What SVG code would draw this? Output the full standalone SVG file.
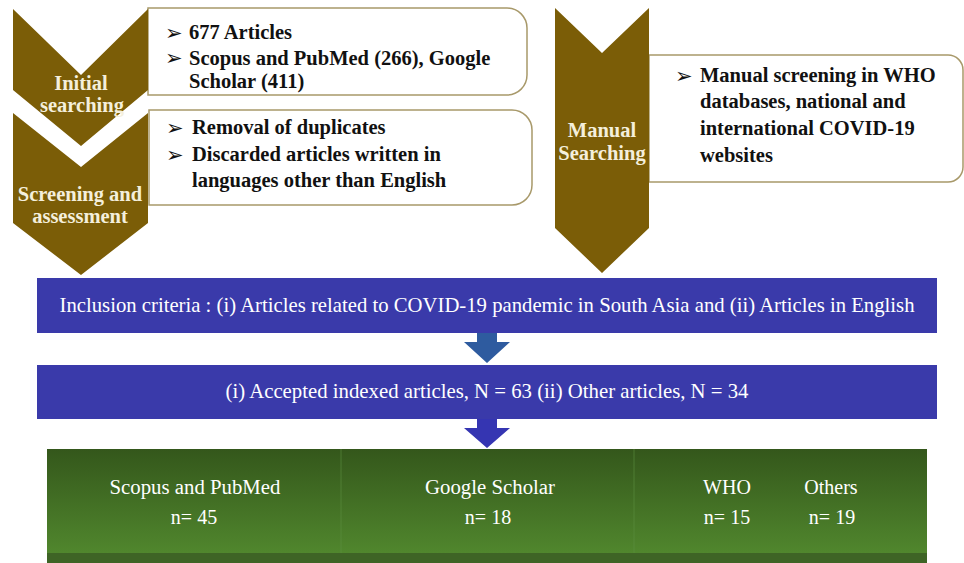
<svg xmlns="http://www.w3.org/2000/svg" width="964" height="563" viewBox="0 0 964 563">
<defs>
<linearGradient id="greenGrad" x1="0" y1="0" x2="0" y2="1">
<stop offset="0" stop-color="#34571b"/>
<stop offset="1" stop-color="#538b2f"/>
</linearGradient>
<style>
.chev{fill:#7b5d07}
.chevText{font-family:"Liberation Serif","Times New Roman",serif;font-weight:bold;font-size:20.5px;fill:#f4efdc;text-anchor:middle}
.box{fill:#ffffff;stroke:#a8996a;stroke-width:1.5}
.bt{font-family:"Liberation Serif","Times New Roman",serif;font-weight:bold;font-size:20.5px;fill:#111111}
.bul{font-family:"DejaVu Sans",sans-serif;font-size:21px;fill:#111111}
.blue{fill:#3a3aaa}
.wt{font-family:"Liberation Serif","Times New Roman",serif;font-size:21px;fill:#ffffff;text-anchor:middle}
.gt{font-family:"Liberation Serif","Times New Roman",serif;font-size:20px;fill:#ffffff;text-anchor:middle}
</style>
</defs>
<rect width="964" height="563" fill="#ffffff"/>

<g id="initial-searching">
<path class="box" d="M148,8 H507 A20,20 0 0 1 527,28 V75 A20,20 0 0 1 507,95 H148 Z"/>
<path class="chev" d="M13,9 L81,75 L148,9 L148,90 L81,146 L13,90 Z"/>
<text class="chevText" x="81" y="90">Initial</text>
<text class="chevText" x="82" y="112">searching</text>
<text class="bul" x="165" y="40">➢</text>
<text class="bt" x="189" y="39">677 Articles</text>
<text class="bul" x="165" y="65">➢</text>
<text class="bt" x="189" y="65">Scopus and PubMed (266), Google</text>
<text class="bt" x="189" y="88">Scholar (411)</text>
</g>

<g id="screening-assessment">
<path class="box" d="M149,110 H512 A20,20 0 0 1 532,130 V185 A20,20 0 0 1 512,205 H149 Z"/>
<path class="chev" d="M13,113 L81,167 L148,113 L148,223 L81,275 L13,223 Z"/>
<text class="chevText" x="80" y="201">Screening and</text>
<text class="chevText" x="80" y="223">assessment</text>
<text class="bul" x="166" y="135">➢</text>
<text class="bt" x="192" y="134">Removal of duplicates</text>
<text class="bul" x="166" y="162">➢</text>
<text class="bt" x="192" y="161">Discarded articles written in</text>
<text class="bt" x="192" y="187">languages other than English</text>
</g>

<g id="manual-searching">
<path class="box" d="M649,55 H948 A15,15 0 0 1 963,70 V167 A15,15 0 0 1 948,182 H649 Z"/>
<path class="chev" d="M555,8 L602,53 L649,8 L649,228 L602,273 L555,228 Z"/>
<text class="chevText" x="602" y="137">Manual</text>
<text class="chevText" x="602" y="160">Searching</text>
<text class="bul" x="675" y="83">➢</text>
<text class="bt" x="700" y="82">Manual screening in WHO</text>
<text class="bt" x="700" y="108">databases, national and</text>
<text class="bt" x="700" y="135">international COVID-19</text>
<text class="bt" x="700" y="162">websites</text>
</g>

<g id="inclusion-criteria">
<rect class="blue" x="37" y="278" width="900" height="55"/>
<text class="wt" x="487" y="312" textLength="855" lengthAdjust="spacingAndGlyphs">Inclusion criteria : (i) Articles related to COVID-19 pandemic in South Asia and (ii) Articles in English</text>
</g>

<g id="accepted-articles">
<rect class="blue" x="37" y="365" width="900" height="54"/>
<text class="wt" x="487" y="398" textLength="523" lengthAdjust="spacingAndGlyphs">(i) Accepted indexed articles, N = 63 (ii) Other articles, N = 34</text>
</g>

<g id="results">
<rect x="47" y="449" width="880" height="114" fill="url(#greenGrad)"/>
<rect x="47" y="553" width="880" height="10" fill="#3e6425"/>
<line x1="341" y1="449" x2="341" y2="553" stroke="#5d8f40" stroke-width="1" opacity="0.6"/>
<line x1="634" y1="449" x2="634" y2="553" stroke="#5d8f40" stroke-width="1" opacity="0.6"/>
<text class="gt" x="195" y="494" textLength="171" lengthAdjust="spacingAndGlyphs">Scopus and PubMed</text>
<text class="gt" x="194" y="524">n= 45</text>
<text class="gt" x="490" y="494" textLength="130" lengthAdjust="spacingAndGlyphs">Google Scholar</text>
<text class="gt" x="488" y="524">n= 18</text>
<text class="gt" x="727" y="494">WHO</text>
<text class="gt" x="727" y="524">n= 15</text>
<text class="gt" x="831" y="494">Others</text>
<text class="gt" x="832" y="524">n= 19</text>
</g>

<g id="connectors">
<path d="M477,333 H497 V342 H510 L487,363 L464,342 H477 Z" fill="#2e5b9f"/>
<path d="M477,419 H497 V428 H510 L487,448 L464,428 H477 Z" fill="#3535b2"/>
</g>
</svg>
